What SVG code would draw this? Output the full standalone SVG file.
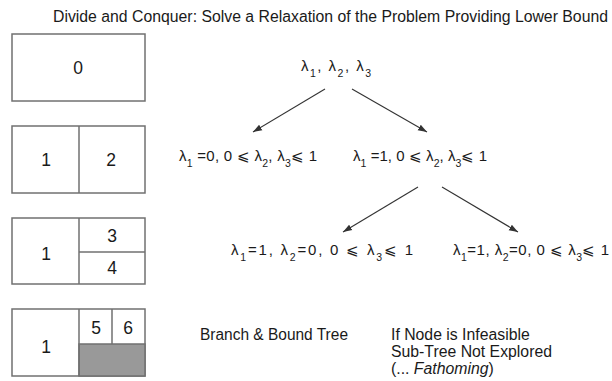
<svg xmlns="http://www.w3.org/2000/svg" width="612" height="381" viewBox="0 0 612 381">
<style>
text{font-family:"Liberation Sans",Arial,Helvetica,sans-serif;fill:#1a1a1a}
.t{font-size:15.8px}
.m{font-size:15px}
.d{font-size:17.5px;text-anchor:middle}
.box{fill:#fff;stroke:#707070;stroke-width:1.5}
.ln{stroke:#707070;stroke-width:1.5;fill:none}
.arr{stroke:#333;stroke-width:1.1;fill:none;marker-end:url(#ah)}
.s{font-size:10.5px}
</style>
<defs>
<marker id="ah" markerUnits="userSpaceOnUse" markerWidth="10" markerHeight="8" refX="9" refY="4" orient="auto">
<path d="M0,0.8 L9,4 L0,7.2 Z" fill="#333"/>
</marker>
</defs>
<rect width="612" height="381" fill="#fff"/>
<text class="t" x="53" y="22" textLength="555" lengthAdjust="spacingAndGlyphs">Divide and Conquer: Solve a Relaxation of the Problem Providing Lower Bound</text>

<g id="box0">
<rect class="box" x="12" y="34" width="133" height="67"/>
<text class="d" x="78" y="74">0</text>
</g>
<g id="box12">
<rect class="box" x="12" y="126" width="133" height="67"/>
<line class="ln" x1="79" y1="126" x2="79" y2="193"/>
<text class="d" x="46" y="166">1</text>
<text class="d" x="111" y="166">2</text>
</g>
<g id="box134">
<rect class="box" x="12" y="218" width="133" height="66"/>
<line class="ln" x1="79" y1="218" x2="79" y2="284"/>
<line class="ln" x1="79" y1="252" x2="145" y2="252"/>
<text class="d" x="46" y="260">1</text>
<text class="d" x="112" y="242">3</text>
<text class="d" x="112" y="274">4</text>
</g>
<g id="box156">
<rect class="box" x="12" y="309" width="133" height="67"/>
<rect x="79" y="344" width="66" height="32" fill="#999" stroke="#707070" stroke-width="1.5"/>
<line class="ln" x1="79" y1="309" x2="79" y2="376"/>
<line class="ln" x1="112" y1="309" x2="112" y2="344"/>
<text class="d" x="46" y="353">1</text>
<text class="d" x="96" y="334">5</text>
<text class="d" x="128" y="334">6</text>
</g>

<g id="connectors">
<line class="arr" x1="325" y1="89" x2="253" y2="132"/>
<line class="arr" x1="352" y1="89" x2="427" y2="132"/>
<line class="arr" x1="418" y1="187" x2="343" y2="232"/>
<line class="arr" x1="442" y1="187" x2="518" y2="232"/>
</g>

<g id="root">
<text class="m" x="301" y="71" textLength="70" lengthAdjust="spacing">λ<tspan class="s" dy="6">1</tspan><tspan dy="-6">, λ</tspan><tspan class="s" dy="6">2</tspan><tspan dy="-6">, λ</tspan><tspan class="s" dy="6">3</tspan></text>
</g>
<g id="n1">
<text class="m" x="179" y="161" textLength="138" lengthAdjust="spacing">λ<tspan class="s" dy="6">1</tspan><tspan dy="-6"> =0, 0 ⩽ λ</tspan><tspan class="s" dy="6">2</tspan><tspan dy="-6">, λ</tspan><tspan class="s" dy="6">3</tspan><tspan dy="-6">⩽ 1</tspan></text>
</g>
<g id="n2">
<text class="m" x="353" y="161" textLength="134" lengthAdjust="spacing">λ<tspan class="s" dy="6">1</tspan><tspan dy="-6"> =1, 0 ⩽ λ</tspan><tspan class="s" dy="6">2</tspan><tspan dy="-6">, λ</tspan><tspan class="s" dy="6">3</tspan><tspan dy="-6">⩽ 1</tspan></text>
</g>
<g id="n3">
<text class="m" x="231" y="255" textLength="182" lengthAdjust="spacing">λ<tspan class="s" dy="6">1</tspan><tspan dy="-6">=1, λ</tspan><tspan class="s" dy="6">2</tspan><tspan dy="-6">=0, 0 ⩽ λ</tspan><tspan class="s" dy="6">3</tspan><tspan dy="-6">⩽ 1</tspan></text>
</g>
<g id="n4">
<text class="m" x="453" y="255" textLength="156" lengthAdjust="spacing">λ<tspan class="s" dy="6">1</tspan><tspan dy="-6">=1, λ</tspan><tspan class="s" dy="6">2</tspan><tspan dy="-6">=0, 0 ⩽ λ</tspan><tspan class="s" dy="6">3</tspan><tspan dy="-6">⩽ 1</tspan></text>
</g>

<text class="t" x="200" y="340" textLength="148" lengthAdjust="spacingAndGlyphs">Branch &amp; Bound Tree</text>
<text class="t" x="391" y="340">If Node is Infeasible</text>
<text class="t" x="391" y="357">Sub-Tree Not Explored</text>
<text class="t" x="391" y="374">(... <tspan font-style="italic">Fathoming</tspan>)</text>
</svg>
